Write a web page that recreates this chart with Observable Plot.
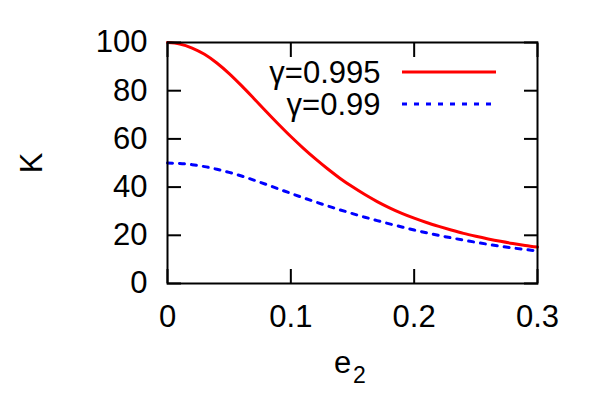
<!DOCTYPE html>
<html><head><meta charset="utf-8">
<script src="https://cdn.jsdelivr.net/npm/d3@7"></script>
<script src="https://cdn.jsdelivr.net/npm/@observablehq/plot@0.6"></script>
<style>body{margin:0;background:#fff;}</style>
</head><body><div id="chart"></div>
<script>
// e2 sample positions
const e2 = [0,0.01,0.02,0.03,0.04,0.05,0.06,0.07,0.08,0.09,0.10,0.11,0.12,0.13,0.14,0.15,0.16,0.17,0.18,0.19,0.20,0.21,0.22,0.23,0.24,0.25,0.26,0.27,0.28,0.29,0.30];
// K for gamma = 0.995 (red solid)
const kRed = [100,99.4,97.7,95.1,91.5,87.1,82.1,76.8,71.4,66.1,61.0,56.2,51.7,47.5,43.6,40.1,36.9,34.0,31.4,29.1,27.1,25.3,23.7,22.2,20.8,19.6,18.5,17.5,16.6,15.8,15.1];
// K for gamma = 0.99 (blue dotted)
const kBlue = [50,49.8,49.3,48.5,47.4,46.1,44.6,42.9,41.1,39.25,37.4,35.6,33.85,32.15,30.55,29.0,27.5,26.1,24.75,23.45,22.2,21.05,19.95,18.95,18.0,17.1,16.25,15.45,14.75,14.1,13.5];
const seriesNames = ["γ=0.995", "γ=0.99"];
const seriesColors = ["#ff0000", "#0000ff"];
const xTicks = [0, 0.1, 0.2, 0.3];
const yTicks = [0, 20, 40, 60, 80, 100];

const redRows = e2.map((e, i) => ({e, k: kRed[i]}));
const blueRows = e2.map((e, i) => ({e, k: kBlue[i]}));

const W = 589, H = 415, mL = 167, mR = 52, mT = 42, mB = 132;
const font = "'Liberation Sans', Arial, Helvetica, sans-serif";
const FS = 31;
const DASH = "5,7";
const noText = () => "";

const svg = Plot.plot({
  width: W, height: H,
  marginLeft: mL, marginRight: mR, marginTop: mT, marginBottom: mB,
  style: {fontFamily: font, fontSize: FS + "px", background: "#fff", color: "#000", overflow: "visible"},
  x: {domain: [0, 0.3], label: null},
  y: {domain: [0, 100], label: null},
  marks: [
    Plot.line(blueRows, {x: "e", y: "k", stroke: seriesColors[1], strokeWidth: 3, strokeDasharray: DASH, curve: "monotone-x"}),
    Plot.line(redRows, {x: "e", y: "k", stroke: seriesColors[0], strokeWidth: 3, curve: "monotone-x"}),
    Plot.frame({stroke: "#000", strokeWidth: 2}),
    Plot.axisX(xTicks, {anchor: "bottom", tickSize: 14, dy: -14, tickFormat: noText, label: null, stroke: "#000", strokeWidth: 2}),
    Plot.axisX(xTicks, {anchor: "top", tickSize: 14, dy: 14, tickFormat: noText, label: null, stroke: "#000", strokeWidth: 2}),
    Plot.axisY(yTicks, {anchor: "left", tickSize: 14, dx: 14, tickFormat: noText, label: null, stroke: "#000", strokeWidth: 2}),
    Plot.axisY(yTicks, {anchor: "right", tickSize: 14, dx: -14, tickFormat: noText, label: null, stroke: "#000", strokeWidth: 2}),
    Plot.axisX(xTicks, {anchor: "bottom", tickSize: 0, tickPadding: 21, tickFormat: d => String(d), label: null, fontSize: FS, fill: "#000"}),
    Plot.axisY(yTicks, {anchor: "left", tickSize: 0, tickPadding: 20, tickFormat: d => String(d), label: null, fontSize: FS, fill: "#000"}),
    // axis titles
    Plot.text(["K"], {frameAnchor: "left", rotate: -90, dx: -135.5, textAnchor: "middle", lineAnchor: "middle", fontSize: FS, fill: "#000"}),
    Plot.text(["e"], {frameAnchor: "bottom", dx: -10, dy: 89, textAnchor: "middle", lineAnchor: "bottom", fontSize: FS, fill: "#000"}),
    Plot.text(["2"], {frameAnchor: "bottom", dx: 7, dy: 99, textAnchor: "middle", lineAnchor: "bottom", fontSize: 23, fill: "#000"}),
    // legend labels
    Plot.text([seriesNames[0]], {frameAnchor: "top-left", dx: 213, dy: 40, textAnchor: "end", lineAnchor: "bottom", fontSize: FS, fill: "#000"}),
    Plot.text([seriesNames[1]], {frameAnchor: "top-left", dx: 213, dy: 72, textAnchor: "end", lineAnchor: "bottom", fontSize: FS, fill: "#000"})
  ]
});

// legend sample lines
const g = d3.select(svg).append("g");
[0, 1].forEach(i => {
  g.append("line")
    .attr("x1", mL + 235).attr("x2", mL + 329)
    .attr("y1", mT + 30 + 32 * i).attr("y2", mT + 30 + 32 * i)
    .attr("stroke", seriesColors[i]).attr("stroke-width", 3)
    .attr("stroke-dasharray", i === 1 ? DASH : null);
});

document.getElementById("chart").appendChild(svg);
</script>
</body></html>
